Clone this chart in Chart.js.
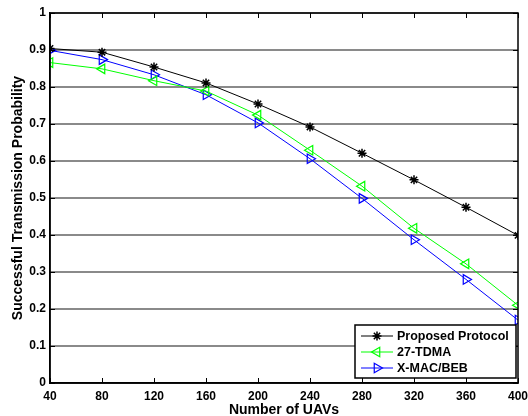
<!DOCTYPE html>
<html lang="en">
<head>
  <meta charset="UTF-8">
  <title>Successful Transmission Probability</title>
  <script src="https://cdn.jsdelivr.net/npm/chart.js"></script>
  <style>
    html, body { margin: 0; padding: 0; background: #fff; }
    #wrap { width: 528px; height: 416px; }
  </style>
</head>
<body>
  <div id="wrap"><canvas id="chart"></canvas></div>
  <script>
    // data
    const uavCounts = [40, 80, 120, 160, 200, 240, 280, 320, 360, 400];
    const proposedProtocol = [0.904, 0.894, 0.854, 0.811, 0.754, 0.692, 0.621, 0.549, 0.475, 0.399];
    const tdma27 = [0.866, 0.849, 0.817, 0.789, 0.724, 0.629, 0.532, 0.418, 0.322, 0.21];
    const xmacBeb = [0.899, 0.874, 0.833, 0.779, 0.703, 0.606, 0.499, 0.387, 0.28, 0.17];
    const seriesNames = ['Proposed Protocol', '27-TDMA', 'X-MAC/BEB'];
    const yTicks = [0, 0.1, 0.2, 0.3, 0.4, 0.5, 0.6, 0.7, 0.8, 0.9, 1];

    const FONT = '"Liberation Sans", Arial, Helvetica, sans-serif';

    function toPoints(values) {
      return values.map((v, i) => ({ x: uavCounts[i], y: v }));
    }

    // matlab style: box round the axes, tick marks pointing inwards
    const boxTicks = {
      id: 'boxTicks',
      afterDraw(chart) {
        const { ctx, chartArea: a, scales } = chart;
        ctx.save();
        ctx.strokeStyle = '#000';
        ctx.lineWidth = 1;
        ctx.beginPath();
        uavCounts.forEach(v => {
          const x = Math.round(scales.x.getPixelForValue(v)) + 0.5;
          ctx.moveTo(x, a.bottom); ctx.lineTo(x, a.bottom - 5);
          ctx.moveTo(x, a.top); ctx.lineTo(x, a.top + 5);
        });
        yTicks.forEach(v => {
          const y = Math.round(scales.y.getPixelForValue(v)) + 0.5;
          ctx.moveTo(a.left, y); ctx.lineTo(a.left + 5, y);
          ctx.moveTo(a.right, y); ctx.lineTo(a.right - 5, y);
        });
        ctx.stroke();
        ctx.lineWidth = 1.5;
        ctx.strokeRect(a.left, a.top, a.right - a.left, a.bottom - a.top);
        ctx.restore();
      }
    };

    // legend box in the lower right corner of the axes
    const insideLegend = {
      id: 'insideLegend',
      afterDraw(chart) {
        const { ctx, chartArea: a } = chart;
        const w = 161, h = 53;
        const x0 = a.right - w - 2, y0 = a.bottom - h - 5;
        ctx.save();
        ctx.fillStyle = '#fff';
        ctx.fillRect(x0, y0, w, h);
        ctx.strokeStyle = '#000';
        ctx.lineWidth = 1.5;
        ctx.strokeRect(x0, y0, w, h);
        ctx.font = 'bold 12.5px ' + FONT;
        ctx.textBaseline = 'middle';
        chart.data.datasets.forEach((ds, i) => {
          const y = y0 + 11 + i * 16;
          ctx.strokeStyle = ds.borderColor;
          ctx.lineWidth = 1;
          ctx.beginPath();
          ctx.moveTo(x0 + 6, y);
          ctx.lineTo(x0 + 38, y);
          ctx.stroke();
          ctx.fillStyle = 'rgba(0,0,0,0)';
          ctx.lineWidth = ds.pointBorderWidth;
          Chart.helpers.drawPoint(ctx, {
            pointStyle: ds.pointStyle,
            rotation: ds.pointRotation || 0,
            radius: ds.pointRadius,
            borderWidth: ds.pointBorderWidth
          }, x0 + 22, y);
          ctx.fillStyle = '#000';
          ctx.fillText(ds.label, x0 + 42, y + 0.5);
        });
        ctx.restore();
      }
    };

    const ctx = document.getElementById('chart').getContext('2d');
    new Chart(ctx, {
      type: 'line',
      data: {
        datasets: [
          {
            label: seriesNames[0],
            data: toPoints(proposedProtocol),
            borderColor: '#000000',
            backgroundColor: 'rgba(0,0,0,0)',
            borderWidth: 1,
            pointStyle: 'star',
            pointRadius: 4.5,
            pointBorderWidth: 1.5
          },
          {
            label: seriesNames[1],
            data: toPoints(tdma27),
            borderColor: '#00ff00',
            backgroundColor: 'rgba(0,0,0,0)',
            borderWidth: 1,
            pointStyle: 'triangle',
            pointRotation: -90,
            pointRadius: 5.5,
            pointBorderWidth: 1.2
          },
          {
            label: seriesNames[2],
            data: toPoints(xmacBeb),
            borderColor: '#0000ff',
            backgroundColor: 'rgba(0,0,0,0)',
            borderWidth: 1,
            pointStyle: 'triangle',
            pointRotation: 90,
            pointRadius: 5.5,
            pointBorderWidth: 1.2
          }
        ]
      },
      options: {
        responsive: true,
        maintainAspectRatio: false,
        animation: false,
        layout: { padding: { top: 13, right: 10, left: 0, bottom: 0 } },
        elements: { line: { tension: 0 } },
        plugins: {
          legend: { display: false },
          tooltip: { enabled: false }
        },
        scales: {
          x: {
            type: 'linear',
            min: 40,
            max: 400,
            afterFit: s => { s.height = 33; s.paddingLeft = 0; s.paddingRight = 0; },
            afterBuildTicks: s => { s.ticks = uavCounts.map(v => ({ value: v })); },
            ticks: {
              color: '#000',
              padding: 6,
              maxRotation: 0,
              font: { family: FONT, size: 12, weight: 'bold' }
            },
            grid: { display: false, drawTicks: false },
            border: { display: true, color: '#000', width: 1.5 },
            title: {
              display: true,
              text: 'Number of UAVs',
              color: '#000',
              padding: { top: 0, bottom: -3 },
              font: { family: FONT, size: 14, weight: 'bold' }
            }
          },
          y: {
            min: 0,
            max: 1,
            afterFit: s => { s.width = 50; s.paddingTop = 0; s.paddingBottom = 0; },
            afterBuildTicks: s => { s.ticks = yTicks.map(v => ({ value: v })); },
            ticks: {
              color: '#000',
              padding: 4,
              callback: v => String(+v.toFixed(1)),
              font: { family: FONT, size: 12, weight: 'bold' }
            },
            grid: { color: '#8a8a8a', lineWidth: 2, drawTicks: false },
            border: { display: true, color: '#000', width: 1.5 },
            title: {
              display: true,
              text: 'Successful Transmission Probability',
              color: '#000',
              padding: { top: 10, bottom: 0 },
              font: { family: FONT, size: 14, weight: 'bold' }
            }
          }
        }
      },
      plugins: [boxTicks, insideLegend]
    });
  </script>
</body>
</html>
